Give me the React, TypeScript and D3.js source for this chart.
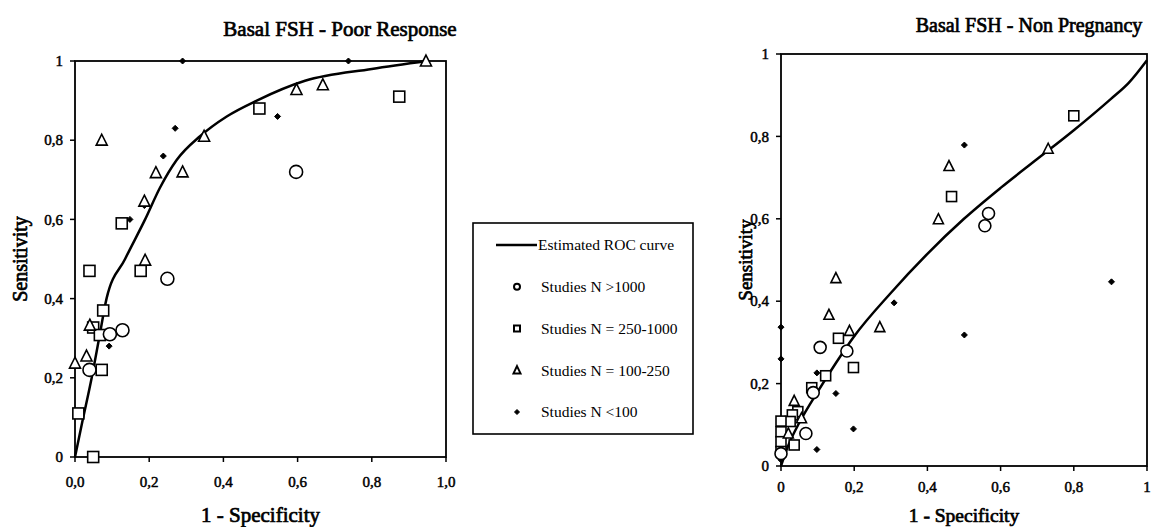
import * as d3 from "d3";

type Pt = [number, number];

// Basal FSH - Poor Response
const leftCircles: Pt[] = [[0.039, 0.22], [0.094, 0.31], [0.128, 0.32], [0.249, 0.45], [0.596, 0.72]];
const leftSquares: Pt[] = [
  [0.009, 0.11], [0.049, 0.0], [0.039, 0.47], [0.076, 0.37], [0.049, 0.327], [0.067, 0.308],
  [0.072, 0.22], [0.126, 0.59], [0.177, 0.47], [0.497, 0.88], [0.874, 0.91],
];
const leftTriangles: Pt[] = [
  [0, 0.237], [0.031, 0.255], [0.04, 0.333], [0.072, 0.8], [0.187, 0.646], [0.189, 0.497],
  [0.218, 0.718], [0.29, 0.72], [0.348, 0.81], [0.597, 0.928], [0.668, 0.94], [0.946, 1.0],
];
const leftDiamonds: Pt[] = [
  [0.092, 0.28], [0.148, 0.6], [0.187, 0.635], [0.238, 0.76], [0.27, 0.83], [0.29, 1.0],
  [0.546, 0.86], [0.737, 1.0], [0.946, 1.0],
];
const leftRoc: Pt[] = [
  [0, 0], [0.02, 0.09], [0.045, 0.2], [0.065, 0.3], [0.085, 0.4], [0.135, 0.5], [0.189, 0.6],
  [0.229, 0.68], [0.274, 0.75], [0.337, 0.81], [0.409, 0.86], [0.49, 0.9], [0.62, 0.95],
  [0.8, 0.98], [0.95, 1.0],
];

// Basal FSH - Non Pregnancy
const rightCircles: Pt[] = [
  [0.107, 0.288], [0.18, 0.279], [0.088, 0.178], [0.068, 0.079], [0.557, 0.583], [0.567, 0.613], [0, 0.03],
];
const rightSquares: Pt[] = [
  [0.466, 0.654], [0.8, 0.85], [0.157, 0.31], [0.198, 0.239], [0.122, 0.219], [0.084, 0.19],
  [0.046, 0.132], [0.031, 0.124], [0.025, 0.108], [0, 0.109], [0, 0.083], [0, 0.059], [0, 0.035],
  [0.036, 0.051],
];
const rightTriangles: Pt[] = [
  [0.459, 0.728], [0.43, 0.599], [0.73, 0.77], [0.15, 0.456], [0.131, 0.367], [0.187, 0.328],
  [0.27, 0.337], [0.036, 0.158], [0.056, 0.116], [0.02, 0.079],
];
const rightDiamonds: Pt[] = [
  [0.501, 0.779], [0.903, 0.447], [0.501, 0.318], [0.309, 0.396], [0, 0.337], [0, 0.26],
  [0.098, 0.226], [0.15, 0.176], [0.198, 0.09], [0.098, 0.04], [0, 0.015],
];
const rightRoc: Pt[] = [
  [0, 0], [0.02, 0.05], [0.05, 0.105], [0.1, 0.18], [0.15, 0.25], [0.2, 0.315], [0.3, 0.42],
  [0.4, 0.515], [0.5, 0.6], [0.6, 0.675], [0.7, 0.745], [0.8, 0.815], [0.9, 0.89], [0.95, 0.93],
  [1, 0.985],
];

const ticks = [0, 0.2, 0.4, 0.6, 0.8, 1];
const leftXTickLabels = ["0,0", "0,2", "0,4", "0,6", "0,8", "1,0"];
const rightXTickLabels = ["0", "0,2", "0,4", "0,6", "0,8", "1"];
const yTickLabels = ["0", "0,2", "0,4", "0,6", "0,8", "1"];
const legendItems = ["Estimated ROC curve", "Studies N >1000", "Studies N = 250-1000", "Studies N = 100-250", "Studies N <100"];

const FONT = "Liberation Serif, serif";
// bold serif is faked with a thin stroke
const bold = { stroke: "black", strokeWidth: 0.7, fill: "black" };

function Marker({ kind, x, y, s, sw = 1.6 }: { kind: string; x: number; y: number; s: number; sw?: number }) {
  if (kind === "circle")
    return <circle cx={x} cy={y} r={s / 2} fill="white" stroke="black" strokeWidth={sw} />;
  if (kind === "square")
    return <rect x={x - s / 2} y={y - s / 2} width={s} height={s} fill="white" stroke="black" strokeWidth={sw} />;
  if (kind === "triangle") {
    const h = s * 0.9;
    return (
      <path
        d={`M${x},${y - h / 2 - 1}L${x + s / 2},${y + h / 2}L${x - s / 2},${y + h / 2}Z`}
        fill="white"
        stroke="black"
        strokeWidth={sw}
        strokeLinejoin="miter"
      />
    );
  }
  const r = s / 2;
  return <path d={`M${x},${y - r}L${x + r},${y}L${x},${y + r}L${x - r},${y}Z`} fill="black" stroke="black" strokeWidth={1} />;
}

function Panel({
  x0, x1, y0, y1, title, titleX, titleY, titleSize, xLabelY, xLabelSize, yLabelX, yLabelSize, tickSize, xTickDy, xTickLabels,
  circles, squares, triangles, diamonds, roc, sizes,
}: {
  x0: number; x1: number; y0: number; y1: number;
  title: string; titleX: number; titleY: number; titleSize: number;
  xLabelY: number; xLabelSize: number; yLabelX: number; yLabelSize: number;
  tickSize: number; xTickDy: number; xTickLabels: string[];
  circles: Pt[]; squares: Pt[]; triangles: Pt[]; diamonds: Pt[]; roc: Pt[];
  sizes: { circle: number; square: number; triangle: number; diamond: number };
}) {
  const xScale = d3.scaleLinear().domain([0, 1]).range([x0, x1]);
  const yScale = d3.scaleLinear().domain([0, 1]).range([y0, y1]);
  const line = d3
    .line<Pt>()
    .x((d) => xScale(d[0]))
    .y((d) => yScale(d[1]))
    .curve(d3.curveMonotoneX);

  const groups: [string, Pt[]][] = [
    ["diamond", diamonds],
    ["square", squares],
    ["triangle", triangles],
    ["circle", circles],
  ];

  return (
    <g style={{ fontFamily: FONT }}>
      <text x={titleX} y={titleY} fontSize={titleSize} textAnchor="middle" {...bold}>
        {title}
      </text>
      {/* frame */}
      <rect x={x0} y={y1} width={x1 - x0} height={y0 - y1} fill="none" stroke="black" strokeWidth={1.8} />
      {ticks.map((t, i) => (
        <g key={`x${i}`}>
          <line x1={xScale(t)} x2={xScale(t)} y1={y0} y2={y0 + 5} stroke="black" strokeWidth={1.5} />
          <text x={xScale(t)} y={y0 + xTickDy} fontSize={tickSize} textAnchor="middle" {...bold} strokeWidth={0.5}>
            {xTickLabels[i]}
          </text>
        </g>
      ))}
      {ticks.map((t, i) => (
        <g key={`y${i}`}>
          <line x1={x0 - 5} x2={x0} y1={yScale(t)} y2={yScale(t)} stroke="black" strokeWidth={1.5} />
          <text x={x0 - 12} y={yScale(t)} dy="0.35em" fontSize={tickSize} textAnchor="end" {...bold} strokeWidth={0.5}>
            {yTickLabels[i]}
          </text>
        </g>
      ))}
      <text x={(x0 + x1) / 2} y={xLabelY} fontSize={xLabelSize} textAnchor="middle" {...bold}>
        1 - Specificity
      </text>
      <text
        transform={`translate(${yLabelX},${(y0 + y1) / 2}) rotate(-90)`}
        fontSize={yLabelSize}
        textAnchor="middle"
        dy="0.35em"
        {...bold}
      >
        Sensitivity
      </text>
      <path d={line(roc) ?? ""} fill="none" stroke="black" strokeWidth={2.5} />
      {groups.map(([kind, pts]) =>
        pts.map((p, i) => (
          <Marker key={`${kind}${i}`} kind={kind} x={xScale(p[0])} y={yScale(p[1])} s={(sizes as any)[kind]} />
        )),
      )}
    </g>
  );
}

function Legend() {
  const lx = 473;
  const ly = 223;
  const kinds = ["line", "circle", "square", "triangle", "diamond"];
  const rowY = d3.scaleLinear().domain([0, 4]).range([245, 412]);
  return (
    <g style={{ fontFamily: FONT }}>
      <rect x={lx} y={ly} width={220} height={211} fill="white" stroke="black" strokeWidth={1.6} />
      {legendItems.map((label, i) => (
        <g key={label}>
          {kinds[i] === "line" ? (
            <line x1={496} x2={537} y1={rowY(i)} y2={rowY(i)} stroke="black" strokeWidth={2.5} />
          ) : (
            <Marker kind={kinds[i]} x={517} y={rowY(i)} s={kinds[i] === "diamond" ? 5 : kinds[i] === "triangle" ? 7 : 6} sw={2} />
          )}
          <text x={i === 0 ? 538 : 541} y={rowY(i)} dy="0.35em" fontSize={15.5} fill="black">
            {label}
          </text>
        </g>
      ))}
    </g>
  );
}

export default function App() {
  return (
    <svg
      width={1154}
      height={527}
      viewBox="0 0 1154 527"
      style={{ position: "absolute", left: 0, top: 0, background: "white" }}
    >
      <rect width={1154} height={527} fill="white" />
      <Panel
        x0={75} x1={446} y0={457} y1={61}
        title="Basal FSH - Poor Response" titleX={340} titleY={36} titleSize={21}
        xLabelY={522} xLabelSize={21} yLabelX={20} yLabelSize={20}
        tickSize={15} xTickDy={30} xTickLabels={leftXTickLabels}
        circles={leftCircles} squares={leftSquares} triangles={leftTriangles} diamonds={leftDiamonds}
        roc={leftRoc}
        sizes={{ circle: 13, square: 11, triangle: 11, diamond: 6 }}
      />
      <Panel
        x0={781} x1={1147} y0={466} y1={54}
        title="Basal FSH - Non Pregnancy" titleX={1029} titleY={32} titleSize={20}
        xLabelY={522} xLabelSize={19.5} yLabelX={745} yLabelSize={19}
        tickSize={15} xTickDy={26} xTickLabels={rightXTickLabels}
        circles={rightCircles} squares={rightSquares} triangles={rightTriangles} diamonds={rightDiamonds}
        roc={rightRoc}
        sizes={{ circle: 12, square: 10, triangle: 10, diamond: 6 }}
      />
      <Legend />
    </svg>
  );
}
